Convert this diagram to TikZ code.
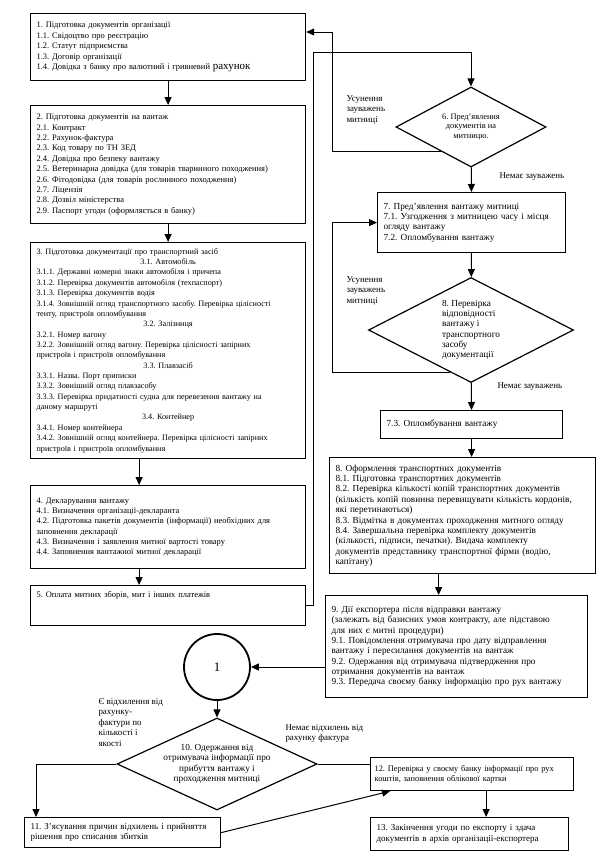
\documentclass[tikz,border=0pt]{standalone}
\usepackage{fontspec}
\setmainfont{Liberation Serif}
\usetikzlibrary{shapes.geometric,arrows.meta,calc}
\frenchspacing

\tikzset{
  box/.style={draw, line width=1.2bp, anchor=north west, align=left, inner xsep=6bp, inner ysep=3bp, font=\fontsize{8.5}{10.4}\selectfont},
  rbox/.style={box, font=\fontsize{9.3}{10.4}\selectfont},
  dmd/.style={draw, line width=1.2bp, diamond, align=center, inner sep=0pt},
  lbl/.style={anchor=north west, align=left, inner sep=0pt, font=\fontsize{9}{10.5}\selectfont},
  >={Triangle[length=8bp,width=7bp]}
}

\begin{document}
\begin{tikzpicture}[x=1bp, y=-1bp, line width=1bp]

\useasboundingbox (0,0) rectangle (600,856);

% left column
\node[box, text width=263bp, minimum height=67bp] (b1) at (30,13) {1. Підготовка документів організації\\
1.1. Свідоцтво про реєстрацію\\
1.2. Статут підприємства\\
1.3. Договір організації\\
1.4. Довідка з банку про валютний і гривневий {\fontsize{11}{11}\selectfont рахунок}};

\node[box, text width=263bp, minimum height=118bp] (b2) at (30,105) {2. Підготовка документів на вантаж\\
2.1. Контракт\\
2.2. Рахунок-фактура\\
2.3. Код товару по ТН ЗЕД\\
2.4. Довідка про безпеку вантажу\\
2.5. Ветеринарна довідка (для товарів тваринного походження)\\
2.6. Фітодовідка (для товарів рослинного походження)\\
2.7. Ліцензія\\
2.8. Дозвіл міністерства\\
2.9. Паспорт угоди (оформляється в банку)};

\node[box, text width=263bp, minimum height=216bp, font=\fontsize{8.2}{10.4}\selectfont] (b3) at (30,242) {3. Підготовка документації про транспортний засіб\\
\makebox[\hsize]{3.1. Автомобіль}\\
3.1.1. Державні номерні знаки автомобіля і причепа\\
3.1.2. Перевірка документів автомобіля (техпаспорт)\\
3.1.3. Перевірка документів водія\\
3.1.4. Зовнішній огляд транспортного засобу. Перевірка цілісності\\
тенту, пристроїв опломбування\\
\makebox[\hsize]{3.2. Залізниця}\\
3.2.1. Номер вагону\\
3.2.2. Зовнішній огляд вагону. Перевірка цілісності запірних\\
пристроїв і пристроїв опломбування\\
\makebox[\hsize]{3.3. Плавзасіб}\\
3.3.1. Назва. Порт приписки\\
3.3.2. Зовнішній огляд плавзасобу\\
3.3.3. Перевірка придатності судна для перевезення вантажу на\\
даному маршруті\\
\makebox[\hsize]{3.4. Контейнер}\\
3.4.1. Номер контейнера\\
3.4.2. Зовнішній огляд контейнера. Перевірка цілісності запірних\\
пристроїв і пристроїв опломбування};

\node[box, text width=263bp, minimum height=83bp] (b4) at (30,485) {4. Декларування вантажу\\
4.1. Визначення організації-декларанта\\
4.2. Підготовка пакетів документів (інформації) необхідних для\\
заповнення декларації\\
4.3. Визначення і заявлення митної вартості товару\\
4.4. Заповнення вантажної митної декларації};

\node[box, text width=263bp, minimum height=40bp, text depth=22bp] (b5) at (30,585) {5. Оплата митних зборів, мит і інших платежів};

% right column
\node[dmd, minimum width=150bp, minimum height=80bp, aspect=1.9, font=\fontsize{8.4}{9.4}\selectfont] (d6) at (471,127) {6. Пред'явлення\\документів на\\митницю.};

\node[rbox, text width=176bp, minimum height=60bp] (b7) at (377,192) {7. Пред'явлення вантажу митниці\\
7.1. Узгодження з митницею часу і місця\\
огляду вантажу\\
7.2. Опломбування вантажу};

\node[dmd, minimum width=205bp, minimum height=105bp, aspect=2, align=left, font=\fontsize{9.3}{10.4}\selectfont] (d8) at (471,330) {8. Перевірка\\відповідності\\вантажу і\\транспортного\\засобу\\документації};

\node[rbox, text width=170bp, minimum height=28bp] (b73) at (380,410) {7.3. Опломбування вантажу};

\node[rbox, text width=254bp, minimum height=116bp] (b8) at (329,457) {8. Оформлення транспортних документів\\
8.1. Підготовка транспортних документів\\
8.2. Перевірка кількості копій транспортних документів\\
(кількість копій повинна перевищувати кількість кордонів,\\
які перетинаються)\\
8.3. Відмітка в документах проходження митного огляду\\
8.4. Завершальна перевірка комплекту документів\\
(кількості, підписи, печатки). Видача комплекту\\
документів представнику транспортної фірми (водію,\\
капітану)};

\node[rbox, text width=250bp, minimum height=102bp] (b9) at (325,595) {9. Дії експортера після відправки вантажу\\
(залежать від базисних умов контракту, але підставою\\
для них є митні процедури)\\
9.1. Повідомлення отримувача про дату відправлення\\
вантажу і пересилання документів на вантаж\\
9.2. Одержання від отримувача підтвердження про\\
отримання документів на вантаж\\
9.3. Передача своєму банку інформацію про рух вантажу};

% bottom part
\node[draw, circle, line width=1.8bp, minimum size=66bp, font=\fontsize{13}{13}\selectfont] (c1) at (217,667) {1};

\node[dmd, minimum width=200bp, minimum height=92bp, aspect=2.2, font=\fontsize{9.3}{10.4}\selectfont] (d10) at (217,764) {10. Одержання від\\отримувача інформації про\\прибуття вантажу і\\проходження митниці};

\node[rbox, text width=184bp, minimum height=30bp, font=\fontsize{9}{10.4}\selectfont] (b11) at (24,817) {11. З'ясування причин відхилень і прийняття\\
рішення про списання збитків};

\node[rbox, text width=195bp, inner xsep=4bp, minimum height=33bp, font=\fontsize{8.4}{10.4}\selectfont] (b12) at (370,757) {12. Перевірка у своєму банку інформації про рух\\
коштів, заповнення облікової картки};

\node[rbox, text width=186bp, minimum height=33bp, font=\fontsize{9}{10.4}\selectfont] (b13) at (370,817) {13. Закінчення угоди по експорту і здача\\
документів в архів організації-експортера};

% labels
\node[lbl] (u6txt) at (346,95) {Усунення\\зауважень\\митниці};
\node[lbl] (n6txt) at (499,172) {Немає зауважень};
\node[lbl] (u8txt) at (346,276) {Усунення\\зауважень\\митниці};
\node[lbl] (n8txt) at (497,382) {Немає зауважень};
\node[lbl] (e10txt) at (98,698) {Є відхилення від\\рахунку-\\фактури по\\кількості і\\якості};
\node[lbl] (n10txt) at (285,724) {Немає відхилень від\\рахунку фактура};

% connectors
\coordinate (up5) at (313,52);
\coordinate (back) at (332,32);
\coordinate (s6) at ($(d6.west)!0.6!(d6.south)$);
\coordinate (s8) at ($(d8.west)!0.8!(d8.south)$);

\draw[->] (b1) -- (b2);
\draw[->] (b2) -- (b3);
\draw[->] ([xshift=-29bp]b3.south) -- ([xshift=-29bp]b4.north);
\draw[->] ([xshift=-29bp]b4.south) -- ([xshift=-29bp]b5.north);

\draw[->] (b5.east) -| (up5) -| (d6.north);
\draw[->] (s6) -| (back) -- (back -| b1.east);
\draw[->] (d6) -- (b7);
\draw[->] (b7) -- (d8);
\draw[->] (s8) -- (s8 -| back) |- (b7.west);
\draw[->] (d8) -- (b73);
\draw[->] (b73.south) -- (b73.south |- b8.north);
\draw[->] ([xshift=-24bp]b8.south) -- ([xshift=-24bp]b8.south |- b9.north);

\draw[->] (b9.west |- c1) -- (c1);
\draw[->] (c1) -- (d10);
\draw[->] (d10.west) -| ([xshift=12bp]b11.north west);
\draw (d10.east) -- (d10.east -| b12.west);
\draw[->] (b11.east) -- ([xshift=20bp]b12.south west);
\draw[->] ([xshift=14bp]b12.south) -- ([xshift=14bp]b12.south |- b13.north);

\end{tikzpicture}
\end{document}
